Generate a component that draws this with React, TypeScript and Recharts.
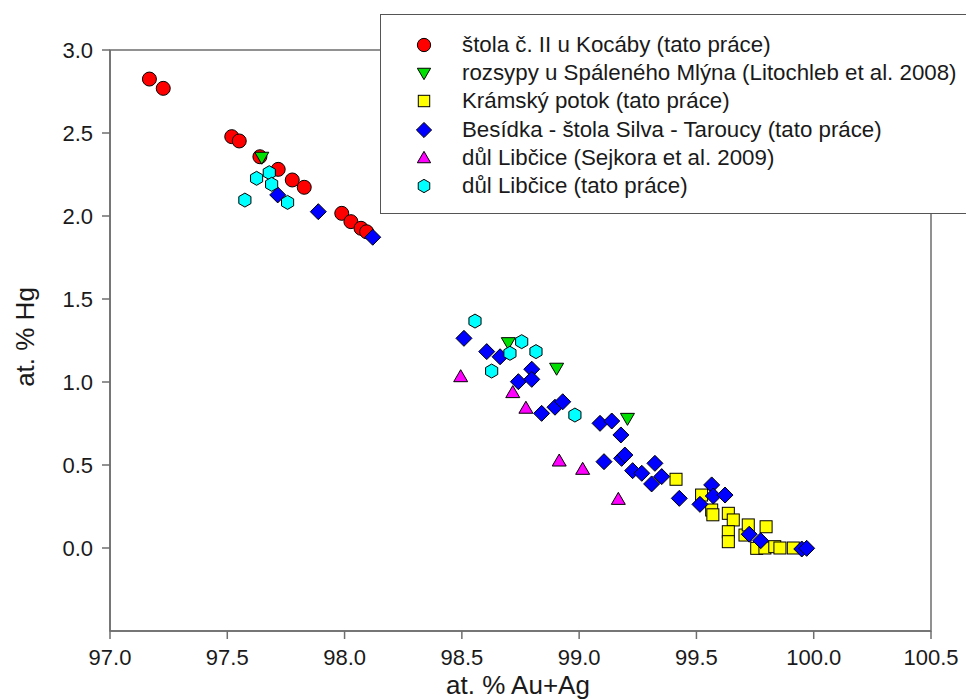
import { ScatterChart, Scatter, XAxis, YAxis, ReferenceArea } from 'recharts';

const FONT = '"Liberation Sans", Arial, sans-serif';

const xTicks = [97, 97.5, 98, 98.5, 99, 99.5, 100, 100.5];
const yTicks = [0, 0.5, 1, 1.5, 2, 2.5, 3];

// [Au+Ag, Hg] in at. %
const kocaby = [
  [97.168, 2.825], [97.227, 2.769], [97.519, 2.478], [97.551, 2.452], [97.639, 2.357],
  [97.717, 2.281], [97.777, 2.217], [97.828, 2.173], [97.988, 2.016], [98.027, 1.966],
  [98.07, 1.926], [98.094, 1.905],
];
const spalenyMlyn = [
  [97.647, 2.354], [98.698, 1.237], [98.904, 1.083], [99.206, 0.781],
];
const kramskyPotok = [
  [99.413, 0.414], [99.522, 0.319], [99.565, 0.229], [99.57, 0.2], [99.636, 0.209],
  [99.657, 0.169], [99.636, 0.098], [99.636, 0.038], [99.707, 0.078], [99.721, 0.139],
  [99.797, 0.128], [99.757, -0.002], [99.792, 0.0], [99.834, 0.008], [99.856, 0.0],
  [99.913, 0.0],
];
const besidka = [
  [97.715, 2.127], [97.888, 2.026], [98.12, 1.872], [98.509, 1.263], [98.606, 1.183],
  [98.663, 1.152], [98.798, 1.077], [98.741, 1.002], [98.798, 1.016], [98.84, 0.811],
  [98.897, 0.848], [98.93, 0.881], [99.089, 0.751], [99.139, 0.765], [99.178, 0.681],
  [99.106, 0.52], [99.181, 0.54], [99.195, 0.56], [99.228, 0.466], [99.267, 0.45],
  [99.323, 0.51], [99.309, 0.386], [99.352, 0.43], [99.427, 0.299], [99.515, 0.263],
  [99.565, 0.38], [99.572, 0.313], [99.622, 0.319], [99.725, 0.083], [99.774, 0.044],
  [99.949, -0.006], [99.97, -0.002],
];
const libciceSejkora = [
  [98.495, 1.032], [98.717, 0.936], [98.773, 0.842], [98.915, 0.524], [99.015, 0.474],
  [99.167, 0.293],
];
const libciceTato = [
  [97.625, 2.227], [97.679, 2.261], [97.689, 2.191], [97.575, 2.096], [97.757, 2.082],
  [98.556, 1.367], [98.755, 1.243], [98.705, 1.173], [98.816, 1.183], [98.627, 1.066],
  [98.982, 0.801],
];

type Kind = 'circle' | 'down' | 'square' | 'diamond' | 'up' | 'hex';

const series: { name: string; kind: Kind; color: string; points: number[][] }[] = [
  { name: 'štola č. II u Kocáby (tato práce)', kind: 'circle', color: '#ff0000', points: kocaby },
  { name: 'rozsypy u Spáleného Mlýna (Litochleb et al. 2008)', kind: 'down', color: '#00e000', points: spalenyMlyn },
  { name: 'Krámský potok (tato práce)', kind: 'square', color: '#ffff00', points: kramskyPotok },
  { name: 'Besídka - štola Silva - Taroucy (tato práce)', kind: 'diamond', color: '#0000ff', points: besidka },
  { name: 'důl Libčice (Sejkora et al. 2009)', kind: 'up', color: '#ff00ff', points: libciceSejkora },
  { name: 'důl Libčice (tato práce)', kind: 'hex', color: '#00ffff', points: libciceTato },
];

function Marker({ kind, cx, cy, fill, s = 1 }: { kind: Kind; cx: number; cy: number; fill: string; s?: number }) {
  const p = { fill, stroke: '#000', strokeWidth: 1 };
  if (kind === 'circle') return <circle cx={cx} cy={cy} r={7 * s} {...p} />;
  if (kind === 'square') return <rect x={cx - 6 * s} y={cy - 6 * s} width={12 * s} height={12 * s} {...p} />;
  if (kind === 'diamond') {
    const r = 8 * s;
    return <polygon points={`${cx},${cy - r} ${cx + r},${cy} ${cx},${cy + r} ${cx - r},${cy}`} {...p} />;
  }
  if (kind === 'down') {
    return <polygon points={`${cx - 7 * s},${cy - 5 * s} ${cx + 7 * s},${cy - 5 * s} ${cx},${cy + 7 * s}`} {...p} />;
  }
  if (kind === 'up') {
    return <polygon points={`${cx},${cy - 7 * s} ${cx + 7 * s},${cy + 5 * s} ${cx - 7 * s},${cy + 5 * s}`} {...p} />;
  }
  const pts = [0, 1, 2, 3, 4, 5]
    .map((i) => {
      const a = (Math.PI / 3) * i + Math.PI / 6;
      return `${cx + 7 * s * Math.cos(a)},${cy + 7 * s * Math.sin(a)}`;
    })
    .join(' ');
  return <polygon points={pts} {...p} />;
}

// legend box sits over the top-right corner of the frame and runs off the page
function LegendBox() {
  return (
    <div
      style={{
        position: 'absolute',
        left: 372,
        top: 6,
        width: 640,
        height: 200,
        border: '1.5px solid #555',
        background: '#fff',
        boxSizing: 'border-box',
        paddingTop: 16,
        fontFamily: FONT,
        fontSize: 22.3,
        color: '#1a1a1a',
      }}
    >
      {series.map((s) => (
        <div key={s.name} style={{ height: 28.2, display: 'flex', alignItems: 'center' }}>
          <svg width={81} height={28} style={{ flex: 'none' }}>
            <Marker kind={s.kind} cx={43} cy={14} fill={s.color} s={0.95} />
          </svg>
          <span style={{ whiteSpace: 'nowrap' }}>{s.name}</span>
        </div>
      ))}
    </div>
  );
}

export default function App() {
  const tick = { fill: '#1a1a1a', fontSize: 22, fontFamily: FONT };
  const axisLine = { stroke: '#6e6e6e', strokeWidth: 1.5 };
  return (
    <div style={{ width: 966, height: 692, overflow: 'hidden', position: 'relative', background: '#fff' }}>
      <ScatterChart width={966} height={692} margin={{ top: 42, right: 43, left: 42, bottom: 29 }}>
        <ReferenceArea x1={97} x2={100.5} y1={-0.5} y2={3} fill="none" stroke="#6e6e6e" strokeWidth={1.5} ifOverflow="visible" />
        <XAxis
          type="number"
          dataKey="x"
          domain={[97, 100.5]}
          ticks={xTicks}
          allowDataOverflow
          tickFormatter={(v: number) => v.toFixed(1)}
          tick={tick}
          tickSize={8}
          tickMargin={10}
          tickLine={axisLine}
          axisLine={axisLine}
          height={40}
          label={{
            content: () => (
              <text x={510} y={677} textAnchor="middle" dominantBaseline="central" fontSize={26} fontFamily={FONT} fill="#1a1a1a">
                at. % Au+Ag
              </text>
            ),
          }}
        />
        <YAxis
          type="number"
          dataKey="y"
          domain={[-0.5, 3]}
          ticks={yTicks}
          allowDataOverflow
          tickFormatter={(v: number) => v.toFixed(1)}
          tick={tick}
          tickSize={8}
          tickMargin={9}
          tickLine={axisLine}
          axisLine={axisLine}
          width={60}
          label={{
            content: () => (
              <text
                x={17}
                y={329}
                transform="rotate(-90 17 329)"
                textAnchor="middle"
                dominantBaseline="central"
                fontSize={26}
                fontFamily={FONT}
                fill="#1a1a1a"
              >
                at. % Hg
              </text>
            ),
          }}
        />
        {series.map((s) => (
          <Scatter
            key={s.name}
            name={s.name}
            data={s.points.map(([x, y]) => ({ x, y }))}
            isAnimationActive={false}
            shape={(props: any) => <Marker kind={s.kind} cx={props.cx} cy={props.cy} fill={s.color} />}
          />
        ))}
      </ScatterChart>
      <LegendBox />
    </div>
  );
}
